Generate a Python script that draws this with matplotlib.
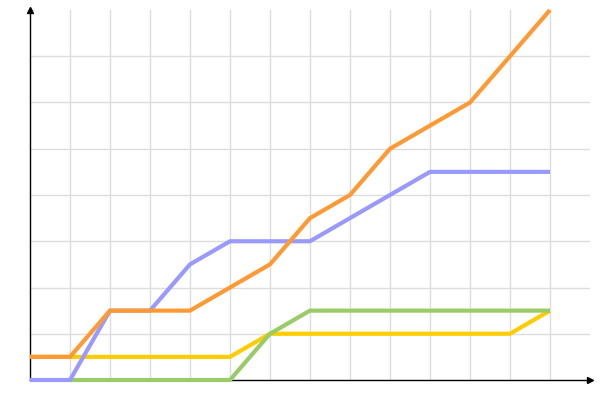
import matplotlib.pyplot as plt
import numpy as np

# values, one point per grid column
idx = np.arange(14)
orange = [0.5, 0.5, 1.5, 1.5, 1.5, 2, 2.5, 3.5, 4, 5, 5.5, 6, 7, 8]
blue = [0, 0, 1.5, 1.5, 2.5, 3, 3, 3, 3.5, 4, 4.5, 4.5, 4.5, 4.5]
yellow = [0.5, 0.5, 0.5, 0.5, 0.5, 0.5, 1, 1, 1, 1, 1, 1, 1, 1.5]
green = [None, 0, 0, 0, 0, 0, 1, 1.5, 1.5, 1.5, 1.5, 1.5, 1.5, 1.5]

fig = plt.figure(figsize=(6, 4), dpi=100)
ax = fig.add_axes([0.05, 0.05, 0.9333, 0.925])

# grid drawn by hand so there is no line along the top edge
for x in range(1, 14):
    ax.axvline(x, color='#dddddd', lw=1, zorder=0)
for y in range(1, 8):
    ax.axhline(y, color='#dddddd', lw=1, zorder=0)

gx = [i for i, v in zip(idx, green) if v is not None]
gy = [v for v in green if v is not None]

style = dict(lw=3, solid_capstyle='butt', clip_on=False)
ax.plot(idx, yellow, color='#ffcc00', zorder=2, **style)
ax.plot(gx, gy, color='#99cc66', zorder=3, **style)
ax.plot(idx, blue, color='#9999ff', zorder=4, **style)
ax.plot(idx, orange, color='#ff9933', zorder=5, **style)

ax.set_xlim(0, 14)
ax.set_ylim(0, 8)
ax.set_xticks([])
ax.set_yticks([])

ax.spines['top'].set_visible(False)
ax.spines['right'].set_visible(False)
ax.spines['left'].set_linewidth(1)
ax.spines['bottom'].set_linewidth(1)
ax.spines['left'].set_zorder(1)
ax.spines['bottom'].set_zorder(1)

# arrow heads at the axis ends
ax.plot(14, 0, marker='>', color='black', ms=4, clip_on=False, zorder=7)
ax.plot(0, 8, marker='^', color='black', ms=4, clip_on=False, zorder=7)

plt.savefig('out.png', dpi=100)
